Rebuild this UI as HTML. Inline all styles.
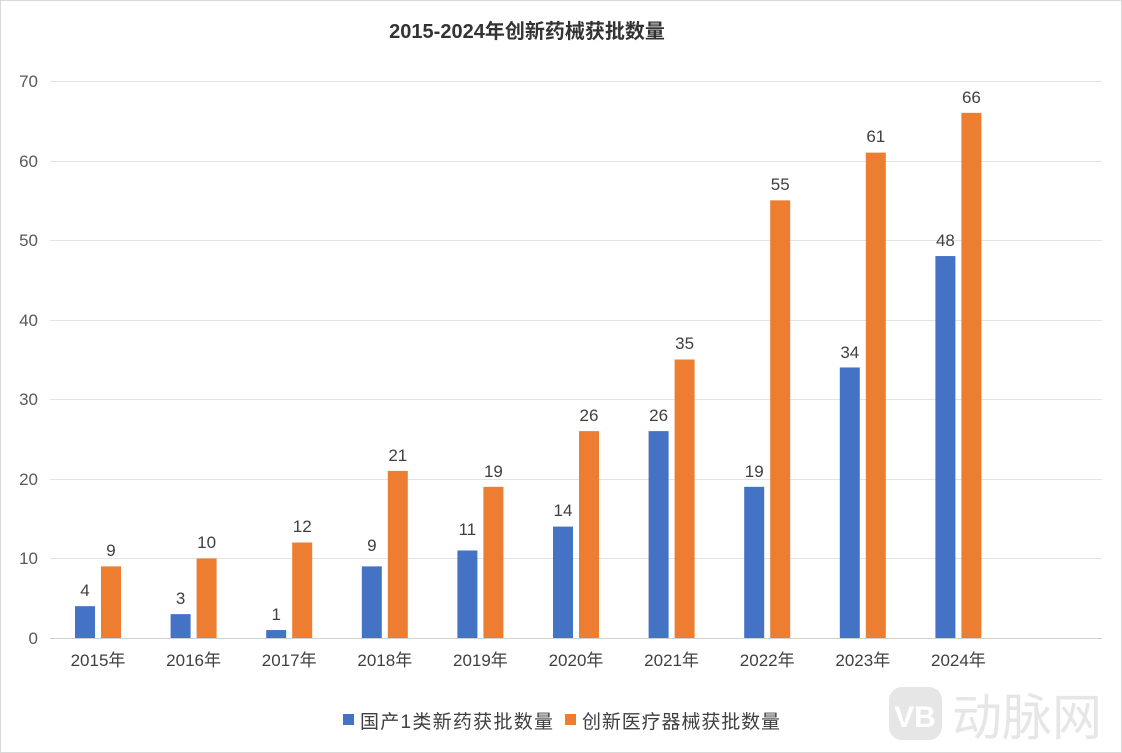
<!DOCTYPE html>
<html><head><meta charset="utf-8"><style>
body{margin:0;background:#fff;}
svg{display:block;font-family:"Liberation Sans","Noto Sans CJK SC",sans-serif;}
</style></head><body>
<svg width="1122" height="753" viewBox="0 0 1122 753">
<rect x="0.5" y="0.5" width="1121" height="752" fill="#fff" stroke="#d9d9d9"/>
<text x="527" y="38" text-anchor="middle" font-size="20" font-weight="bold" fill="#333">2015-2024年创新药械获批数量</text>
<g stroke="#e3e3e3" stroke-width="1">
<line x1="50" x2="1102" y1="81.5" y2="81.5"/><line x1="50" x2="1102" y1="161.5" y2="161.5"/>
<line x1="50" x2="1102" y1="240.5" y2="240.5"/><line x1="50" x2="1102" y1="320.5" y2="320.5"/>
<line x1="50" x2="1102" y1="399.5" y2="399.5"/><line x1="50" x2="1102" y1="479.5" y2="479.5"/>
<line x1="50" x2="1102" y1="558.5" y2="558.5"/>
</g>
<line x1="50" x2="1102" y1="638.5" y2="638.5" stroke="#d0d0d0"/>
<g font-size="17" fill="#595959" text-anchor="end">
<text x="38" y="87">70</text><text x="38" y="167">60</text><text x="38" y="246">50</text>
<text x="38" y="326">40</text><text x="38" y="405">30</text><text x="38" y="485">20</text>
<text x="38" y="564">10</text><text x="38" y="644">0</text>
</g>
<g transform="translate(0,638) scale(1,-7.957)">
<g fill="#4472c4">
<rect x="75" y="0" width="20" height="4"/><rect x="170.6" y="0" width="20" height="3"/>
<rect x="266.2" y="0" width="20" height="1"/><rect x="361.8" y="0" width="20" height="9"/>
<rect x="457.4" y="0" width="20" height="11"/><rect x="553" y="0" width="20" height="14"/>
<rect x="648.6" y="0" width="20" height="26"/><rect x="744.2" y="0" width="20" height="19"/>
<rect x="839.8" y="0" width="20" height="34"/><rect x="935.4" y="0" width="20" height="48"/>
</g>
<g fill="#ed7d31">
<rect x="101" y="0" width="20" height="9"/><rect x="196.6" y="0" width="20" height="10"/>
<rect x="292.2" y="0" width="20" height="12"/><rect x="387.8" y="0" width="20" height="21"/>
<rect x="483.4" y="0" width="20" height="19"/><rect x="579" y="0" width="20" height="26"/>
<rect x="674.6" y="0" width="20" height="35"/><rect x="770.2" y="0" width="20" height="55"/>
<rect x="865.8" y="0" width="20" height="61"/><rect x="961.4" y="0" width="20" height="66"/>
</g>
</g>
<g font-size="17" fill="#404040" text-anchor="middle">
<text x="85" y="596">4</text><text x="111" y="556">9</text>
<text x="180.6" y="604">3</text><text x="206.6" y="548">10</text>
<text x="276.2" y="620">1</text><text x="302.2" y="532">12</text>
<text x="371.8" y="551">9</text><text x="397.8" y="461">21</text>
<text x="467.4" y="535">11</text><text x="493.4" y="477">19</text>
<text x="563" y="516">14</text><text x="589" y="421">26</text>
<text x="658.6" y="421">26</text><text x="684.6" y="349">35</text>
<text x="754.2" y="477">19</text><text x="780.2" y="190">55</text>
<text x="849.8" y="358">34</text><text x="875.8" y="142">61</text>
<text x="945.4" y="246">48</text><text x="971.4" y="103">66</text>
</g>
<g font-size="17" fill="#404040" text-anchor="middle">
<text x="98" y="666">2015年</text><text x="193.6" y="666">2016年</text>
<text x="289.2" y="666">2017年</text><text x="384.8" y="666">2018年</text>
<text x="480.4" y="666">2019年</text><text x="576" y="666">2020年</text>
<text x="671.6" y="666">2021年</text><text x="767.2" y="666">2022年</text>
<text x="862.8" y="666">2023年</text><text x="958.4" y="666">2024年</text>
</g>
<rect x="343" y="714" width="11" height="11" fill="#4472c4"/>
<text x="360" y="728" font-size="19" fill="#404040" textLength="193">国产1类新药获批数量</text>
<rect x="565" y="714" width="11" height="11" fill="#ed7d31"/>
<text x="582" y="728" font-size="19" fill="#404040" textLength="198">创新医疗器械获批数量</text>
<rect x="889" y="687" width="53" height="53" rx="13" fill="#e6e6e6"/>
<text x="915" y="727" font-size="30" font-weight="bold" fill="#fff" text-anchor="middle">VB</text>
<text x="952" y="735" font-size="50" fill="#e6e6e6">动脉网</text>
</svg>
</body></html>
